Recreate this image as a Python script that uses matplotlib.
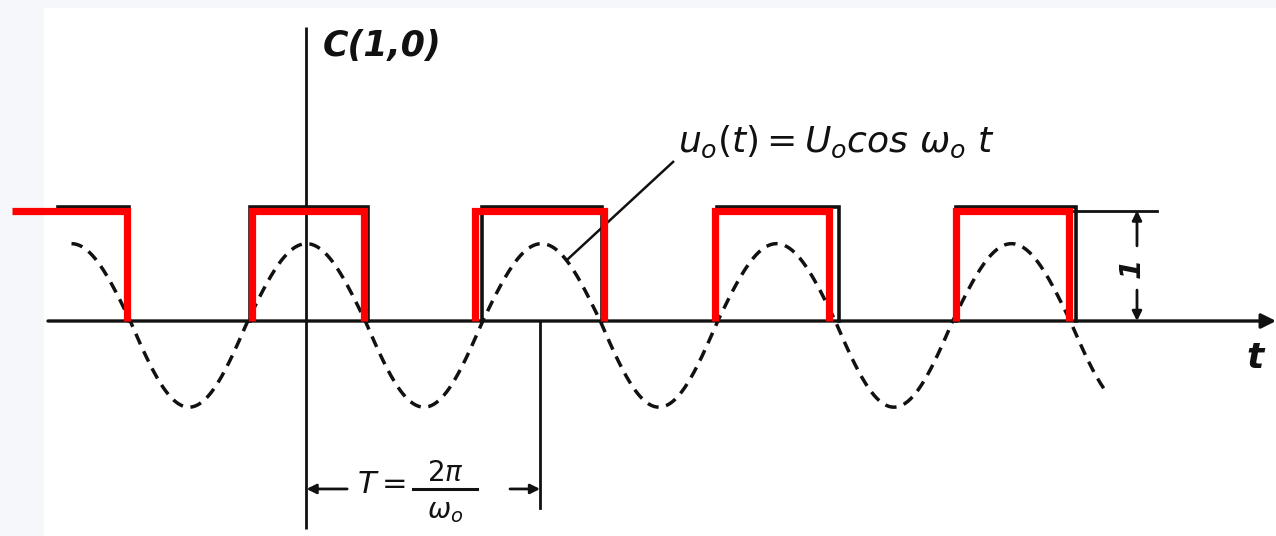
import numpy as np
import matplotlib
matplotlib.use("Agg")
import matplotlib.pyplot as plt
from matplotlib.patches import Rectangle

plt.rcParams['font.family'] = ['DejaVu Sans']
plt.rcParams['mathtext.fontset'] = 'dejavusans'

# ---------------- data (time in periods T, amplitude in units of the pulse height) ----
# red overlay pulses: rising / falling edges (first pulse starts off the left edge)
red_rise = [-1.253, -0.234, 0.717, 1.738, 2.763]
red_fall = [-0.764, 0.245, 1.266, 2.223, 3.245]
red_level = 1.0

# original black pulses
blk_rise = [-1.057, -0.240, 0.747, 1.747, 2.764]
blk_fall = [-0.755, 0.262, 1.257, 2.266, 3.274]
blk_level = 1.035

# dashed reference carrier u0(t) = U0 cos(w0 t)
U0_pos = 0.70
U0_neg = 0.78
t_cos_start = -1.0
t_cos_end = 3.40
omega0 = 2 * np.pi  # one period per unit t

T_period = 0.994

# ---------------- figure --------------------------------------------------------
W, H = 1276, 536
fig = plt.figure(figsize=(W / 100, H / 100), dpi=100)
fig.patch.set_facecolor('white')
# scan margins (light tint)
fig.patches.append(Rectangle((0, 0), 44 / W, 1, transform=fig.transFigure,
                             facecolor='#f5f7fa', edgecolor='none', zorder=-10))
fig.patches.append(Rectangle((0, 1 - 8 / H), 1, 8 / H, transform=fig.transFigure,
                             facecolor='#f5f7fa', edgecolor='none', zorder=-10))

ax = fig.add_axes([0, 0, 1, 1])
ax.set_facecolor('none')
ax.set_zorder(5)
x0_px, per_px = 306.5, 235.0
y0_px, unit_px = 321.0, 110.5
ax.set_xlim(-x0_px / per_px, (W - x0_px) / per_px)
ax.set_ylim((y0_px - H) / unit_px, y0_px / unit_px)
ax.axis('off')

ink = '#111111'

# axes of the diagram
ax.annotate('', xy=(4.126, 0), xytext=(-1.10, 0),
            arrowprops=dict(arrowstyle='-|>', color=ink, lw=2.4,
                            mutation_scale=22, shrinkA=0, shrinkB=0))
ax.plot([0, 0], [-1.88, 2.66], color=ink, lw=2.0, solid_capstyle='butt')

# dashed cosine
t = np.linspace(t_cos_start, t_cos_end, 800)
c = np.cos(omega0 * t)
u = np.where(c > 0, U0_pos * c, U0_neg * c)
ax.plot(t, u, color=ink, lw=2.5, linestyle=(0, (3.3, 2.2)), dash_capstyle='butt')

# black pulses
for i, (r, f) in enumerate(zip(blk_rise, blk_fall)):
    if i == 0:
        xs, ys = [r, f, f], [blk_level, blk_level, 0]
    else:
        xs, ys = [r, r, f, f], [0, blk_level, blk_level, 0]
    ax.plot(xs, ys, color=ink, lw=2.6, solid_joinstyle='miter')

# red pulses
for i, (r, f) in enumerate(zip(red_rise, red_fall)):
    if i == 0:
        xs, ys = [r, f, f], [red_level, red_level, 0]
    else:
        xs, ys = [r, r, f, f], [0, red_level, red_level, 0]
    ax.plot(xs, ys, color='#ff0000', lw=5.2, solid_joinstyle='miter',
            solid_capstyle='butt', zorder=5)

# height dimension "1"
ax.plot([3.26, 3.62], [1.0, 1.0], color=ink, lw=2.0)
ax.annotate('', xy=(3.534, 1.0), xytext=(3.534, 0.68),
            arrowprops=dict(arrowstyle='-|>', color=ink, lw=2.0,
                            mutation_scale=14, shrinkA=0, shrinkB=0))
ax.annotate('', xy=(3.534, 0.0), xytext=(3.534, 0.28),
            arrowprops=dict(arrowstyle='-|>', color=ink, lw=2.0,
                            mutation_scale=14, shrinkA=0, shrinkB=0))
ax.text(3.513, 0.48, '1', rotation=90, ha='center', va='center',
        fontsize=21, style='italic', fontweight='bold', color=ink)

# period dimension
ax.plot([T_period, T_period], [0, -1.692], color=ink, lw=2.0)
ax.annotate('', xy=(0, -1.52), xytext=(0.173, -1.52),
            arrowprops=dict(arrowstyle='-|>', color=ink, lw=2.0,
                            mutation_scale=14, shrinkA=0, shrinkB=0))
ax.annotate('', xy=(T_period, -1.52), xytext=(0.866, -1.52),
            arrowprops=dict(arrowstyle='-|>', color=ink, lw=2.0,
                            mutation_scale=14, shrinkA=0, shrinkB=0))
ax.text(0.214, -1.48, r'$T=$', ha='left', va='center', fontsize=22,
        color=ink)
ax.text(0.589, -1.375, r'$2\pi$', ha='center', va='center', fontsize=20,
        color=ink)
ax.plot([0.453, 0.726], [-1.52, -1.52], color=ink, lw=2.2)
ax.text(0.589, -1.72, r'$\omega_o$', ha='center', va='center', fontsize=20,
        color=ink)

# labels
ax.text(0.07, 2.49, 'C(1,0)', ha='left', va='center', fontsize=25,
        style='italic', fontweight='bold', color=ink)
ax.text(4.036, -0.335, 't', ha='center', va='center', fontsize=26,
        style='italic', fontweight='bold', color=ink)
ax.text(1.581, 1.53, r'$u_o(t) = U_o\mathit{cos}\ \omega_o\ t$', ha='left',
        va='baseline', fontsize=26, color=ink)
ax.plot([1.56, 1.108], [1.44, 0.552], color=ink, lw=1.8)

fig.savefig('out.png', dpi=100, facecolor=fig.get_facecolor())
